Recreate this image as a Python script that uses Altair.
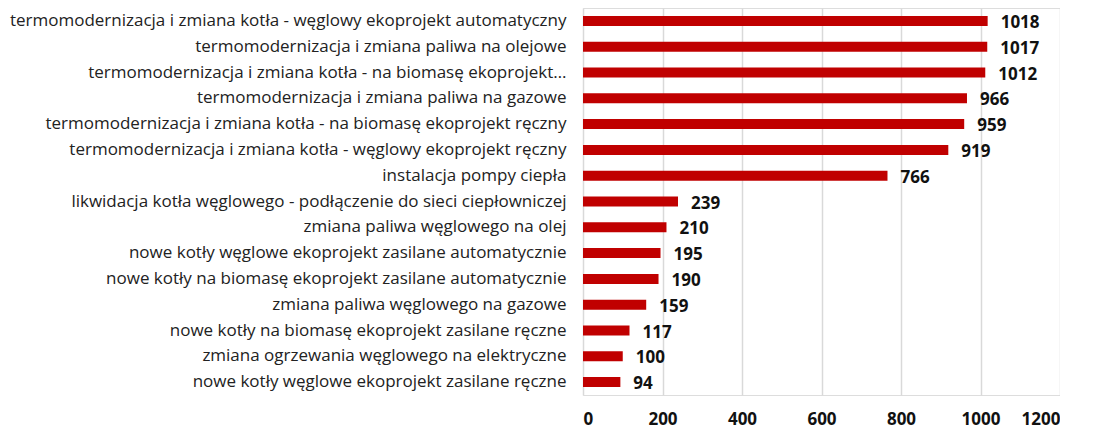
import altair as alt
import pandas as pd

categories = [
    "termomodernizacja i zmiana kotła - węglowy ekoprojekt automatyczny",
    "termomodernizacja i zmiana paliwa na olejowe",
    "termomodernizacja i zmiana kotła - na biomasę ekoprojekt…",
    "termomodernizacja i zmiana paliwa na gazowe",
    "termomodernizacja i zmiana kotła - na biomasę ekoprojekt ręczny",
    "termomodernizacja i zmiana kotła - węglowy ekoprojekt ręczny",
    "instalacja pompy ciepła",
    "likwidacja kotła węglowego - podłączenie do sieci ciepłowniczej",
    "zmiana paliwa węglowego na olej",
    "nowe kotły węglowe ekoprojekt zasilane automatycznie",
    "nowe kotły na biomasę ekoprojekt zasilane automatycznie",
    "zmiana paliwa węglowego na gazowe",
    "nowe kotły na biomasę ekoprojekt zasilane ręczne",
    "zmiana ogrzewania węglowego na elektryczne",
    "nowe kotły węglowe ekoprojekt zasilane ręczne",
]
values = [1018, 1017, 1012, 966, 959, 919, 766, 239, 210, 195, 190, 159, 117, 100, 94]
x_ticks = [0, 200, 400, 600, 800, 1000, 1200]

df = pd.DataFrame({"kategoria": categories, "wartosc": values})

y_enc = alt.Y(
    "kategoria:N",
    sort=categories,
    title=None,
    scale=alt.Scale(paddingInner=0.62, paddingOuter=0.31),
    axis=alt.Axis(
        labelFont="Open Sans",
        labelFontSize=17,
        labelColor="#222222",
        labelPadding=17,
        labelLimit=700,
        ticks=False,
        domain=False,
        grid=False,
        minExtent=575,
        maxExtent=575,
    ),
)
x_enc = alt.X(
    "wartosc:Q",
    title=None,
    scale=alt.Scale(domain=[0, 1200], nice=False),
    axis=alt.Axis(
        values=x_ticks,
        format="d",
        labelFont="Open Sans",
        labelFontSize=17,
        labelFontWeight="bold",
        labelColor="#111111",
        labelPadding=16,
        ticks=False,
        domain=False,
        grid=True,
        gridColor="#d9d9d9",
        gridWidth=1.5,
    ),
)

base = alt.Chart(df).encode(y=y_enc, x=x_enc)
bars = base.mark_bar(color="#C00000", size=10)
text = base.mark_text(
    align="left",
    baseline="middle",
    dx=13,
    dy=2,
    font="Open Sans",
    fontSize=17,
    fontWeight="bold",
    color="#111111",
).encode(text=alt.Text("wartosc:Q"))

chart = (
    (bars + text)
    .properties(width=477, height=387, padding={"left": 0, "top": 0, "right": 0, "bottom": 2})
    .configure_view(stroke=None)
    .configure(background="white")
)

chart.save("out.html", embed_options={"renderer": "svg", "actions": False})
